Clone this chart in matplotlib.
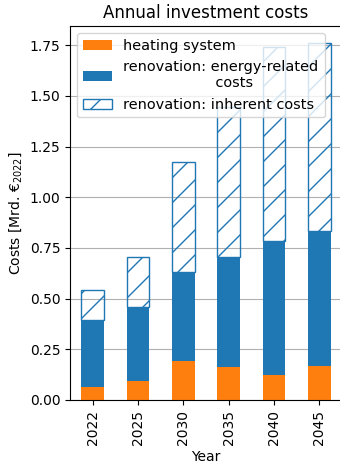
import numpy as np
import matplotlib
matplotlib.use("Agg")
import matplotlib.pyplot as plt

years = ["2022", "2025", "2030", "2035", "2040", "2045"]
heating_system = [0.063, 0.092, 0.191, 0.164, 0.123, 0.169]
renovation_energy = [0.330, 0.368, 0.442, 0.540, 0.663, 0.666]
renovation_inherent = [0.150, 0.247, 0.543, 0.739, 0.957, 0.924]

# Rendered at 75 dpi; point-based sizes are scaled so they keep their
# usual pixel size while the hatch tile gets denser spacing.
DPI = 75
k = 100 / DPI
plt.rcParams.update({
    "font.size": 10 * k,
    "axes.linewidth": 0.8 * k,
    "grid.linewidth": 0.8 * k,
    "xtick.major.width": 0.8 * k,
    "ytick.major.width": 0.8 * k,
    "xtick.major.size": 3.5 * k,
    "ytick.major.size": 3.5 * k,
    "xtick.major.pad": 3.5 * k,
    "ytick.major.pad": 3.5 * k,
    "patch.linewidth": 1.0 * k,
    "hatch.linewidth": 1.0 * k,
    "axes.labelpad": 4.0 * k,
    "axes.titlepad": 6.0 * k,
})

fig = plt.figure(figsize=(340 / DPI, 465 / DPI), dpi=DPI)
ax = fig.add_axes([0.206, 0.14, 0.80, 0.804])
ax.set_axisbelow(True)
ax.yaxis.grid(True)

x = np.arange(len(years))
h = np.array(heating_system)
e = np.array(renovation_energy)
r = np.array(renovation_inherent)
w = 0.5

ax.bar(x, h, w, color="tab:orange", label="heating system")
ax.bar(x, e, w, bottom=h, color="tab:blue",
       label="renovation: energy-related\n" + " " * 20 + "costs")
ax.bar(x, r, w, bottom=h + e, fill=False, edgecolor="tab:blue",
       hatch="/", label="renovation: inherent costs")

ax.set_xlim(-0.5, len(years) - 0.5)
ax.set_ylim(0, 1.845)
ax.set_xticks(x)
ax.set_xticklabels(years, rotation=90)
ax.set_xlabel("Year")
ax.set_ylabel("Costs [Mrd. €$_{2022}$]")
ax.set_title("Annual investment costs")
ax.legend(loc="upper left", fontsize=10.4 * k)

fig.savefig("out.png", dpi=DPI)
